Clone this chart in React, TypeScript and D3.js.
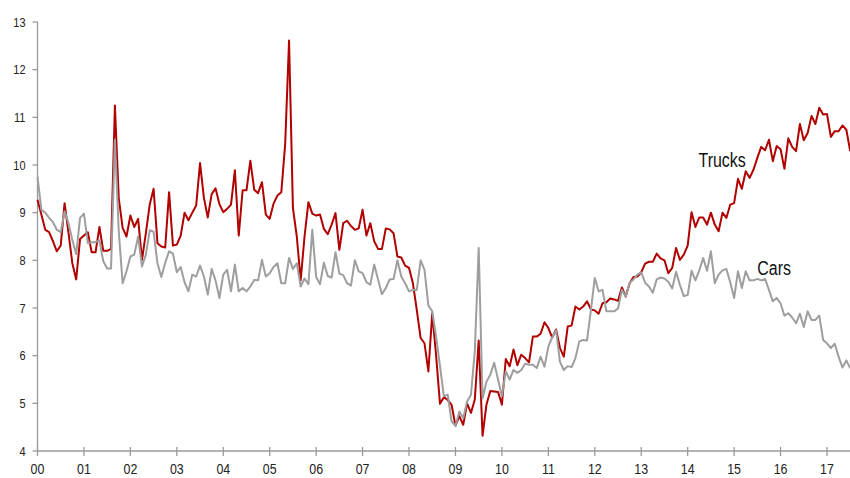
import React from "react";
import * as d3 from "d3";

// Monthly values, Jan 2000 .. Jul 2017
const trucks: number[] = [
  9.27, 8.96, 8.64, 8.59, 8.4, 8.19, 8.31, 9.2, 8.58, 7.94, 7.6, 8.45,
  8.52, 8.59, 8.17, 8.17, 8.7, 8.2, 8.2, 8.24, 11.25, 9.3, 8.68, 8.5,
  8.94, 8.7, 8.87, 8.01, 8.57, 9.17, 9.5, 8.36, 8.29, 8.27, 9.43, 8.31,
  8.33, 8.52, 9.0, 8.84, 9.0, 9.15, 10.04, 9.31, 8.9, 9.39, 9.51, 9.18,
  9.01, 9.08, 9.17, 9.89, 8.52, 9.47, 9.47, 10.09, 9.48, 9.41, 9.64, 8.96,
  8.87, 9.19, 9.36, 9.43, 10.44, 12.61, 9.1, 8.5, 7.58, 8.5, 9.22, 8.98,
  8.94, 8.96, 8.66, 8.55, 8.75, 8.99, 8.22, 8.78, 8.83, 8.72, 8.64, 8.67,
  9.06, 8.52, 8.78, 8.4, 8.24, 8.24, 8.67, 8.65, 8.57, 8.08, 8.06, 7.89,
  7.84, 7.52, 6.96, 6.37, 6.26, 5.67, 6.89, 6.0, 4.99, 5.13, 5.07, 4.97,
  4.53, 4.73, 4.55, 5.0, 4.8, 5.08, 6.32, 4.32, 4.97, 5.26, 5.25, 5.24,
  4.97, 5.93, 5.78, 6.13, 5.8, 6.02, 5.95, 5.86, 6.4, 6.4, 6.46, 6.7,
  6.58, 6.38, 6.55, 6.16, 5.98, 6.61, 6.63, 7.03, 6.97, 7.03, 7.14, 6.97,
  6.95, 6.88, 7.1, 7.12, 7.2, 7.18, 7.15, 7.43, 7.24, 7.52, 7.65, 7.66,
  7.75, 7.93, 7.97, 7.97, 8.14, 8.04, 8.0, 7.73, 7.84, 8.26, 8.01, 8.12,
  8.31, 9.01, 8.7, 8.9, 8.9, 8.75, 9.0, 8.75, 8.61, 9.0, 8.89, 9.17,
  9.2, 9.71, 9.5, 9.87, 9.73, 9.9, 10.15, 10.38, 10.31, 10.53, 10.08, 10.4,
  10.33, 9.92, 10.56, 10.38, 10.29, 10.86, 10.52, 10.67, 11.03, 10.86, 11.2, 11.06,
  11.07, 10.59, 10.71, 10.71, 10.83, 10.74, 10.29,
];

const cars: number[] = [
  9.75, 9.06, 9.0, 8.89, 8.8, 8.64, 8.59, 9.03, 8.78, 8.43, 8.13, 8.89,
  8.98, 8.36, 8.38, 8.38, 8.42, 7.98, 7.83, 7.83, 10.53, 8.6, 7.52, 7.77,
  8.08, 8.12, 8.5, 7.87, 8.12, 8.63, 8.6, 7.94, 7.65, 7.95, 8.19, 8.14,
  7.75, 7.86, 7.54, 7.35, 7.7, 7.66, 7.89, 7.66, 7.28, 7.82, 7.58, 7.21,
  7.7, 7.8, 7.35, 7.91, 7.35, 7.42, 7.35, 7.45, 7.59, 7.58, 8.01, 7.66,
  7.73, 7.86, 7.94, 7.52, 7.52, 8.05, 7.82, 7.94, 7.45, 7.62, 7.5, 8.64,
  7.65, 7.5, 7.95, 7.67, 7.64, 8.17, 7.72, 7.69, 7.52, 7.47, 8.0, 7.77,
  7.73, 7.54, 7.49, 7.91, 7.6, 7.29, 7.42, 7.6, 7.61, 8.0, 7.66, 7.52,
  7.35, 7.38, 7.38, 8.0, 7.8, 7.05, 6.93, 6.4, 5.78, 5.15, 5.18, 4.62,
  4.53, 4.83, 4.69, 5.04, 5.18, 6.1, 8.26, 5.1, 5.45, 5.6, 5.85, 5.5,
  5.15, 5.67, 5.5, 5.7, 5.64, 5.7, 5.83, 5.81, 5.81, 5.74, 5.98, 5.77,
  6.19, 6.39, 6.53, 5.87, 5.7, 5.78, 5.76, 5.95, 6.3, 6.33, 6.32, 6.96,
  7.63, 7.35, 7.38, 6.93, 6.93, 6.93, 6.99, 7.38, 7.24, 7.53, 7.6, 7.7,
  7.75, 7.53, 7.45, 7.32, 7.6, 7.64, 7.62, 7.55, 7.41, 7.76, 7.48, 7.25,
  7.27, 7.78, 7.58, 7.79, 8.05, 7.78, 8.19, 7.52, 7.7, 7.79, 7.82, 7.54,
  7.21, 7.77, 7.42, 7.77, 7.58, 7.58, 7.61, 7.58, 7.61, 7.38, 7.14, 7.21,
  7.1, 6.84, 6.89, 6.8, 6.68, 6.88, 6.6, 6.93, 6.75, 6.75, 6.84, 6.33,
  6.26, 6.16, 6.25, 5.98, 5.75, 5.9, 5.74,
];

const yearLabels: string[] = [
  "00", "01", "02", "03", "04", "05", "06", "07", "08",
  "09", "10", "11", "12", "13", "14", "15", "16", "17",
];
const yTicks: number[] = [4, 5, 6, 7, 8, 9, 10, 11, 12, 13];

const seriesLabels = [
  { name: "Trucks", month: 170.8, value: 9.96 },
  { name: "Cars", month: 186, value: 7.69 },
];

const W = 850;
const H = 478;
const FONT = "'Liberation Sans', Arial, sans-serif";
const RED = "#b00000";
const GRAY = "#9e9e9e";
const AXIS = "#9a9a9a";

function NarrowText(props: {
  x: number;
  y: number;
  size: number;
  squeeze: number;
  anchor: "start" | "middle" | "end";
  dy?: string;
  fill?: string;
  children: React.ReactNode;
}) {
  return (
    <text
      transform={`translate(${props.x},${props.y}) scale(${props.squeeze},1)`}
      dy={props.dy}
      textAnchor={props.anchor}
      fontSize={props.size}
      fill={props.fill ?? "#222"}
    >
      {props.children}
    </text>
  );
}

export default function App() {
  const x = d3.scaleLinear().domain([0, 204]).range([37.5, 827]);
  const y = d3.scaleLinear().domain([4, 13]).range([451, 22]);
  const line = d3
    .line<number>()
    .x((_, i) => x(i))
    .y((d) => y(d));

  return (
    <svg
      width={W}
      height={H}
      style={{ position: "absolute", left: 0, top: 0, background: "#fff" }}
      fontFamily={FONT}
    >
      {/* y axis */}
      <line x1={x(0)} x2={x(0)} y1={y(4)} y2={y(13)} stroke={AXIS} strokeWidth={1.3} />
      {yTicks.map((t) => (
        <g key={t}>
          <line x1={x(0) - 5} x2={x(0)} y1={y(t)} y2={y(t)} stroke={AXIS} strokeWidth={1.3} />
          <NarrowText x={25.5} y={y(t)} dy="0.36em" anchor="end" size={12.8} squeeze={0.86}>
            {t}
          </NarrowText>
        </g>
      ))}
      {/* x axis */}
      <line x1={x(0)} x2={W} y1={y(4)} y2={y(4)} stroke={AXIS} strokeWidth={1.3} />
      {yearLabels.map((lab, i) => (
        <g key={lab}>
          <line x1={x(i * 12)} x2={x(i * 12)} y1={y(4) - 4} y2={y(4) + 5} stroke={AXIS} strokeWidth={1.3} />
          <NarrowText x={x(i * 12)} y={474.3} anchor="middle" size={15.5} squeeze={0.8}>
            {lab}
          </NarrowText>
        </g>
      ))}
      {/* series */}
      <path d={line(trucks) ?? ""} fill="none" stroke={RED} strokeWidth={2} strokeLinejoin="round" />
      <path d={line(cars) ?? ""} fill="none" stroke={GRAY} strokeWidth={2} strokeLinejoin="round" />
      {/* labels */}
      {seriesLabels.map((s) => (
        <NarrowText key={s.name} x={x(s.month)} y={y(s.value)} anchor="start" size={21} squeeze={0.76} fill="#111">
          {s.name}
        </NarrowText>
      ))}
    </svg>
  );
}
